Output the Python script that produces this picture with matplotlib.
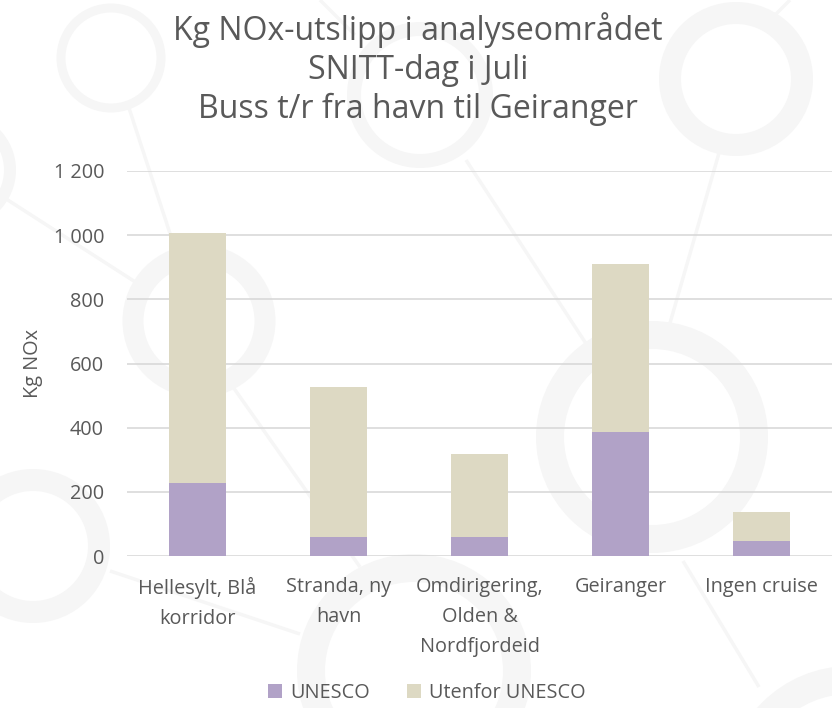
import matplotlib
matplotlib.use("Agg")
import matplotlib.pyplot as plt
from matplotlib.patches import Circle
import numpy as np

# ---- data ----
categories = ["Hellesylt, Blå\nkorridor", "Stranda, ny\nhavn",
              "Omdirigering,\nOlden &\nNordfjordeid", "Geiranger", "Ingen cruise"]
unesco = [228, 59, 60, 388, 48]
utenfor = [779, 467, 259, 522, 90]
series_names = ["UNESCO", "Utenfor UNESCO"]
yticks = [0, 200, 400, 600, 800, 1000, 1200]
ytick_labels = ["0", "200", "400", "600", "800", "1 000", "1 200"]
title = "Kg NOx-utslipp i analyseområdet\nSNITT-dag i Juli\nBuss t/r fra havn til Geiranger"
ylabel = "Kg NOx"

FONT = ["Open Sans", "DejaVu Sans"]
plt.rcParams["font.family"] = FONT
TXT = "#595959"
C_UN = "#b1a2c7"
C_UT = "#ddd9c3"
FS = 14.3

fig = plt.figure(figsize=(8.32, 7.08), dpi=100)

# background decoration (faint rings and connecting lines), in pixel coords
bg = fig.add_axes([0, 0, 1, 1], zorder=-5)
bg.set_xlim(0, 832)
bg.set_ylim(708, 0)
bg.axis("off")
RING = "#f6f6f6"
rings = [((111, 58), 50, 9), ((420, 95), 66, 14), ((736, 79), 66, 22),
         ((199, 321), 66, 21), ((-42, 170), 52, 12), ((33, 546), 66, 22),
         ((652, 437), 102, 28), ((414, 671), 103, 28), ((850, 790), 110, 28)]
lines = [((128, 105), (178, 258)), ((0, 195), (140, 285)),
         ((466, 160), (600, 365)), ((233, 387), (360, 567)),
         ((719, 153), (668, 330)), ((683, 561), (759, 687)),
         ((110, 571), (300, 634)), ((320, 0), (355, 35)),
         ((790, 0), (770, 20))]
for (p0, p1) in lines:
    bg.plot([p0[0], p1[0]], [p0[1], p1[1]], color=RING, lw=2.5, solid_capstyle="butt")
for (c, r, w) in rings:
    bg.add_patch(Circle(c, r, fill=False, edgecolor=RING, lw=w * 0.72))

# main axes
ax = fig.add_axes([127 / 832, 1 - 556 / 708, 1 - 127 / 832, (556 - 171) / 708])
ax.set_facecolor("none")
x = np.arange(len(categories))
ax.bar(x, unesco, width=0.4, color=C_UN, label=series_names[0], zorder=3)
ax.bar(x, utenfor, width=0.4, bottom=unesco, color=C_UT, label=series_names[1], zorder=3)

ax.set_xlim(-0.5, len(categories) - 0.5)
ax.set_ylim(0, 1200)
ax.set_yticks(yticks)
ax.set_yticklabels(ytick_labels)
ax.set_xticks(x)
ax.set_xticklabels(categories, linespacing=1.68)
ax.grid(axis="y", color="#d9d9d9", lw=1.2, zorder=0)
for s in ax.spines.values():
    s.set_visible(False)
ax.tick_params(axis="both", length=0, colors=TXT, labelsize=FS)
ax.tick_params(axis="x", pad=15)
ax.tick_params(axis="y", pad=16.5)
fig.text(33 / 832, 1 - 363 / 708, ylabel, rotation=90, ha="center", va="center",
         color=TXT, fontsize=FS)

fig.text(418 / 832, 1 - 69 / 708, title, ha="center", va="center", color=TXT,
         fontsize=23, linespacing=1.22)

leg = fig.legend(loc="center", bbox_to_anchor=(427 / 832, 1 - 693 / 708), ncol=2,
                 frameon=False, fontsize=FS, handlelength=0.7, handleheight=0.7,
                 handletextpad=0.4, columnspacing=1.9, labelcolor=TXT)

fig.savefig("out.png", dpi=100)
